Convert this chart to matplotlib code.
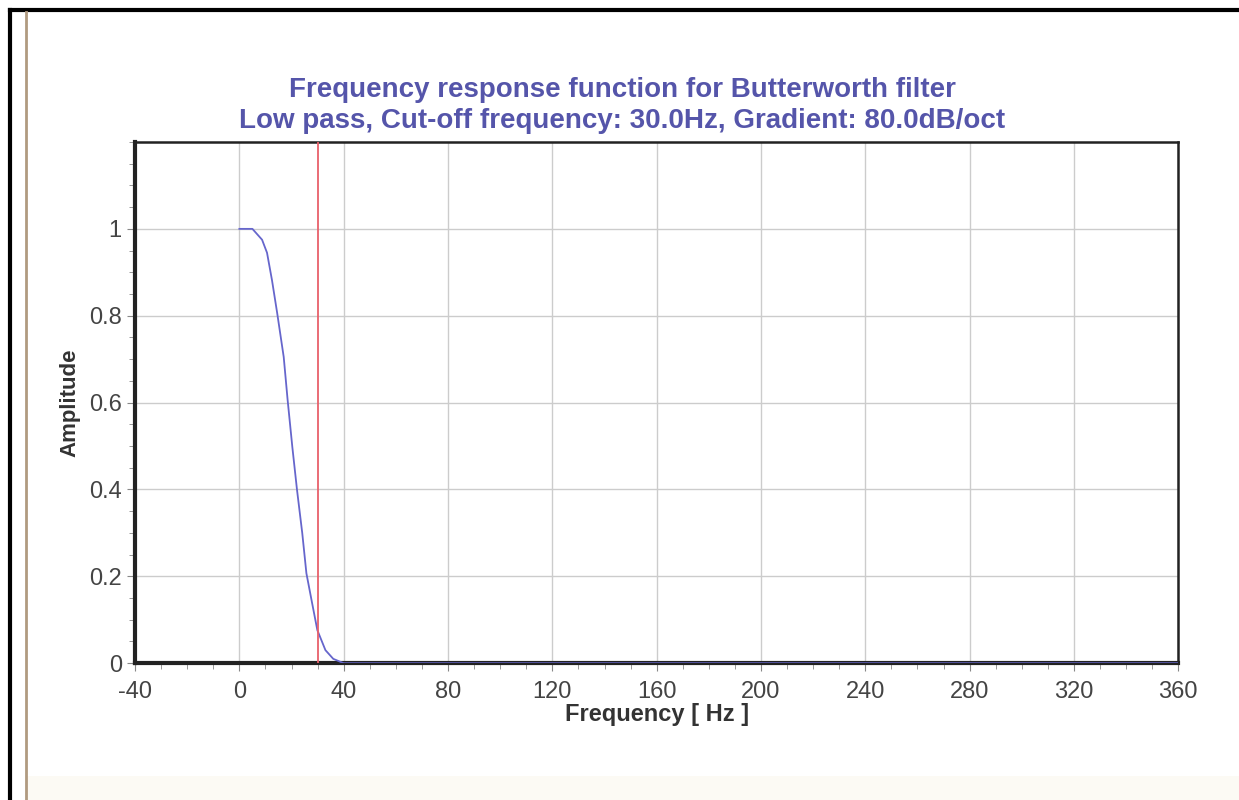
import numpy as np
import matplotlib.pyplot as plt
from matplotlib.ticker import MultipleLocator

plt.rcParams['font.family'] = ['Liberation Sans', 'DejaVu Sans']
plt.rcParams['axes.unicode_minus'] = False

# frequency response
freq = [0, 5, 8.7, 10.6, 12.5, 14.5, 17, 18.5, 20.3, 22.1, 24.1, 25.7, 27.9,
        29.9, 33, 36, 40, 360]
amp = [1.0, 1.0, 0.975, 0.945, 0.882, 0.806, 0.705, 0.606, 0.498, 0.399,
       0.30, 0.207, 0.138, 0.076, 0.03, 0.01, 0.0, 0.0]
cutoff = 30.0

title1 = 'Frequency response function for Butterworth filter'
title2 = 'Low pass, Cut-off frequency: 30.0Hz, Gradient: 80.0dB/oct'

fig = plt.figure(figsize=(12.39, 8), dpi=100)
ax = fig.add_axes([0.109, 0.171, 0.842, 0.6515])

ax.plot(freq, amp, color='#6666cc', lw=1.3, zorder=3)
ax.axvline(cutoff, color='#e8606a', lw=1.3, zorder=3)

ax.set_xlim(-40, 360)
ax.set_ylim(0, 1.2)
ax.set_xticks(np.arange(-40, 361, 40))
ax.set_yticks([0, 0.2, 0.4, 0.6, 0.8, 1])
ax.set_yticklabels(['0', '0.2', '0.4', '0.6', '0.8', '1'])
ax.xaxis.set_minor_locator(MultipleLocator(10))
ax.yaxis.set_minor_locator(MultipleLocator(0.05))
ax.grid(True, which='major', color='#cccccc', lw=1)
ax.set_axisbelow(True)
ax.tick_params(which='both', direction='out', colors='#888888',
               labelcolor='#444444', labelsize=17)
ax.tick_params(which='major', length=6)
ax.tick_params(which='minor', length=4)
ax.tick_params(axis='x', pad=7)

for s in ['left', 'bottom']:
    ax.spines[s].set_linewidth(3)
for s in ['top', 'right']:
    ax.spines[s].set_linewidth(1.8)
for s in ax.spines.values():
    s.set_color('#222222')

ax.set_xlabel('Frequency [ Hz ]', fontsize=17, fontweight='bold',
              color='#333333', labelpad=0)
ax.set_ylabel('Amplitude', fontsize=16, fontweight='bold',
              color='#333333', labelpad=6)

fig.text(0.502, 0.887, title1, ha='center', va='center', fontsize=20,
         fontweight='bold', color='#5555aa')
fig.text(0.502, 0.849, title2, ha='center', va='center', fontsize=20,
         fontweight='bold', color='#5555aa')

# page frame
fig.add_artist(plt.Rectangle((0.02, 0), 0.98, 0.03, color='#fcfaf4', lw=0,
                             transform=fig.transFigure, zorder=0))
fig.add_artist(plt.Line2D([0.008, 0.008], [0, 0.988], color='black', lw=3,
                          transform=fig.transFigure))
fig.add_artist(plt.Line2D([0.008, 1], [0.988, 0.988], color='black', lw=3,
                          transform=fig.transFigure))
fig.add_artist(plt.Line2D([0.021, 0.021], [0, 0.985], color='#b09a80', lw=2,
                          transform=fig.transFigure))

fig.savefig('out.png', dpi=100)
